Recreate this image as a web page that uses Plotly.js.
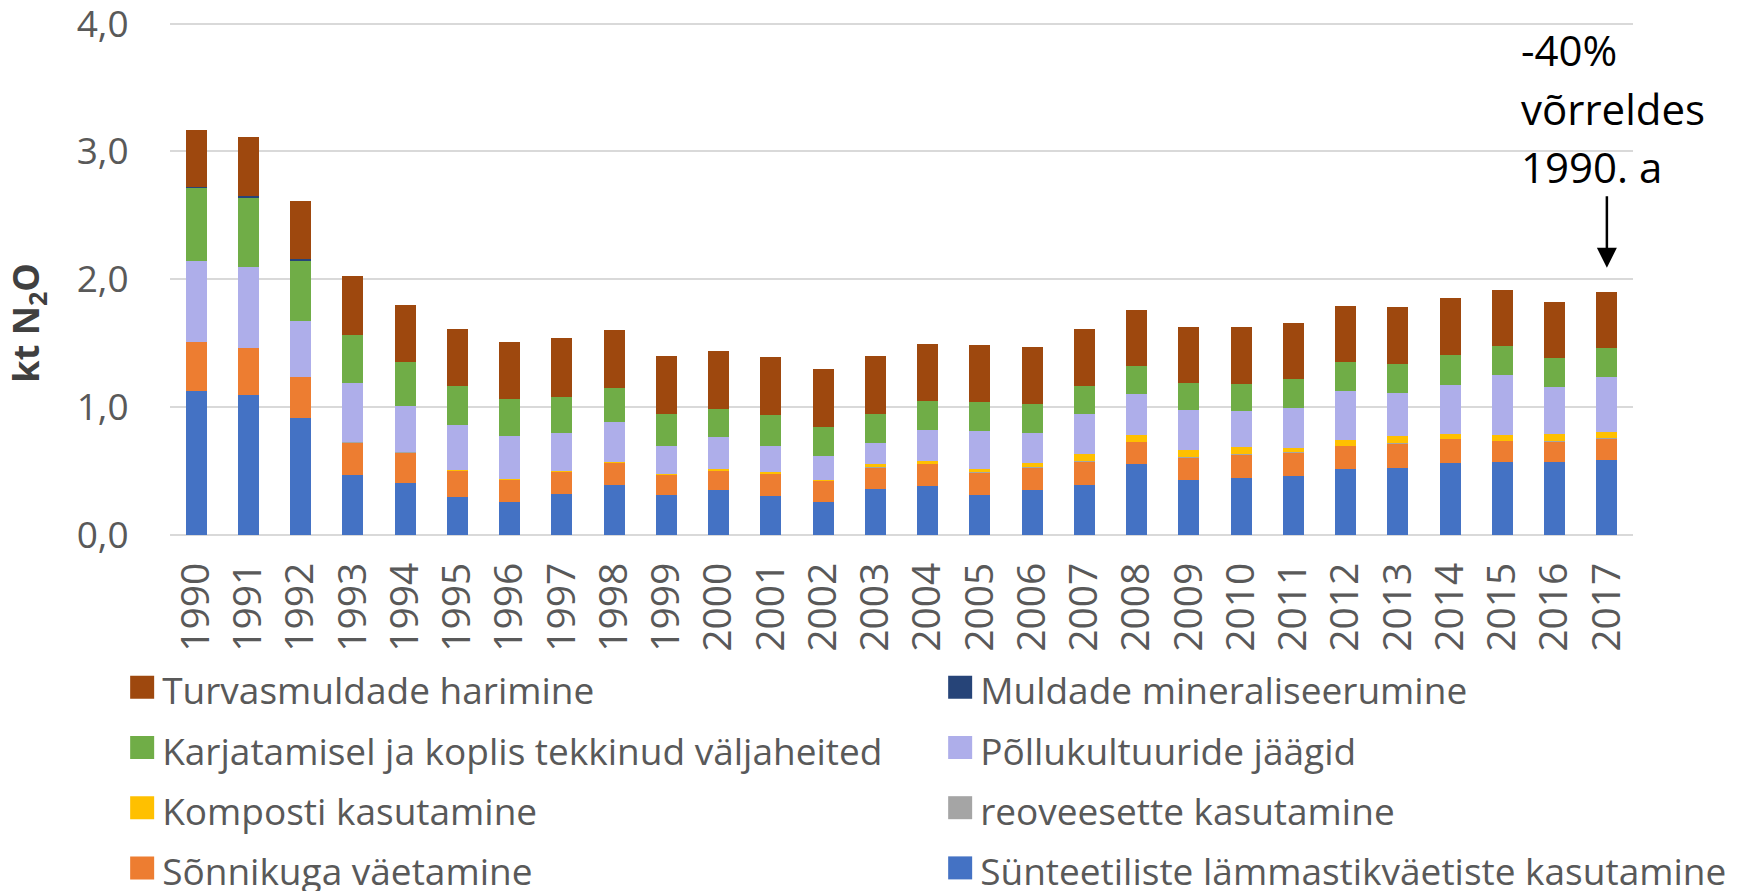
<!DOCTYPE html>
<html>
<head>
<meta charset="utf-8">
<script src="https://cdn.plot.ly/plotly-3.0.1.min.js"></script>
<style>
html,body{margin:0;padding:0;background:#fff;}
#chart{width:1738px;height:891px;}
#chart g.legendpoints path{d:path("M12,11.5H-12V-11.5H12Z");}
</style>
</head>
<body>
<div id="chart"></div>
<script>
const years = ['1990','1991','1992','1993','1994','1995','1996','1997','1998','1999','2000','2001','2002','2003','2004','2005','2006','2007','2008','2009','2010','2011','2012','2013','2014','2015','2016','2017'];

const synteetilised = [1.126,1.098,0.919,0.471,0.409,0.297,0.258,0.319,0.392,0.311,0.353,0.303,0.258,0.361,0.387,0.314,0.353,0.392,0.555,0.431,0.448,0.465,0.518,0.527,0.563,0.569,0.569,0.583];
const sonnik = [0.384,0.367,0.313,0.252,0.235,0.204,0.173,0.177,0.174,0.162,0.148,0.176,0.165,0.168,0.170,0.173,0.176,0.182,0.173,0.174,0.181,0.179,0.179,0.190,0.188,0.168,0.162,0.170];
const reovesete = [0,0,0,0.002,0.002,0.002,0.002,0.002,0.002,0.002,0.002,0.002,0.002,0.002,0.002,0.002,0.002,0.002,0.002,0.002,0.002,0.002,0.002,0.002,0.002,0.002,0.002,0.002];
const kompost = [0,0,0,0,0,0.004,0.003,0.006,0.004,0.003,0.012,0.011,0.008,0.023,0.020,0.031,0.031,0.056,0.056,0.059,0.054,0.037,0.045,0.052,0.037,0.045,0.058,0.052];
const pollukultuurid = [0.633,0.630,0.443,0.467,0.362,0.352,0.339,0.296,0.311,0.222,0.252,0.205,0.182,0.168,0.241,0.294,0.238,0.317,0.320,0.308,0.283,0.314,0.384,0.339,0.387,0.465,0.370,0.431];
const karjatamine = [0.571,0.538,0.471,0.376,0.344,0.303,0.286,0.280,0.269,0.243,0.221,0.243,0.233,0.227,0.227,0.227,0.227,0.218,0.215,0.218,0.213,0.221,0.224,0.230,0.232,0.227,0.227,0.224];
const mineraliseerumine = [0.004,0.017,0.012,0,0,0,0,0,0,0,0,0,0,0,0,0,0,0,0,0,0,0,0,0,0,0,0,0];
const turvasmullad = [0.450,0.462,0.453,0.454,0.448,0.453,0.451,0.457,0.451,0.457,0.451,0.454,0.451,0.448,0.448,0.446,0.443,0.446,0.440,0.437,0.443,0.437,0.440,0.440,0.443,0.437,0.434,0.437];

const seriesNames = ['Sünteetiliste lämmastikväetiste kasutamine','Sõnnikuga väetamine','reoveesette kasutamine','Komposti kasutamine','Põllukultuuride jäägid','Karjatamisel ja koplis tekkinud väljaheited','Muldade mineraliseerumine','Turvasmuldade harimine'];
const seriesValues = [synteetilised, sonnik, reovesete, kompost, pollukultuurid, karjatamine, mineraliseerumine, turvasmullad];
const seriesColors = ['#4472C4','#ED7D31','#A5A5A5','#FFC000','#AEAEEA','#70AD47','#264478','#9E480E'];

const yTitle = 'kt N<sub>2</sub>O';
const annotLines = ['-40%', 'võrreldes', '1990. a'];
const arrowYear = '2017';
const arrowTip = 2.09;

const legendTextSize = 37;
const annotTextSize = 42;
const sized = (t, s) => '<span style="font-size:' + s + 'px">' + t + '</span>';

const traces = seriesNames.map((n, i) => ({
  type: 'bar',
  name: sized(n, legendTextSize),
  x: years,
  y: seriesValues[i],
  marker: {color: seriesColors[i], line: {width: 0}},
  hovertemplate: '%{x}: %{y}<extra>' + n + '</extra>'
}));

const tickColor = '#595959';
const layout = {
  width: 1738,
  height: 891,
  margin: {l: 170, r: 105, t: 21.45, b: 356, autoexpand: false},
  paper_bgcolor: '#ffffff',
  plot_bgcolor: '#ffffff',
  font: {family: 'Open Sans, sans-serif', color: tickColor},
  barmode: 'stack',
  bargap: 0.6,
  separators: ',.',
  showlegend: true,
  legend: {
    orientation: 'h',
    traceorder: 'reversed',
    x: -0.0327,
    xanchor: 'left',
    y: -0.228,
    yanchor: 'top',
    entrywidth: 773,
    entrywidthmode: 'pixels',
    font: {size: 44, color: tickColor},
    bgcolor: 'rgba(0,0,0,0)'
  },
  xaxis: {
    type: 'category',
    range: [-0.5, years.length - 0.5],
    tickangle: -90,
    tickfont: {size: 39, color: tickColor},
    ticks: 'outside',
    ticklen: 11,
    tickcolor: 'rgba(0,0,0,0)',
    showgrid: false,
    showline: false,
    zeroline: false,
    automargin: false
  },
  yaxis: {
    range: [0, 4.02],
    tickvals: [0, 1, 2, 3, 4],
    tickformat: '.1f',
    ticklabeloverflow: 'allow',
    tickfont: {size: 37, color: tickColor},
    ticks: 'outside',
    ticklen: 33,
    tickcolor: 'rgba(0,0,0,0)',
    gridcolor: '#D9D9D9',
    gridwidth: 2,
    zeroline: true,
    zerolinecolor: '#D9D9D9',
    zerolinewidth: 2,
    showline: false,
    automargin: false
  },
  annotations: [
    {
      xref: 'paper', yref: 'paper',
      x: -0.0971, y: 0.413,
      xanchor: 'center', yanchor: 'middle',
      textangle: -90,
      text: yTitle,
      showarrow: false,
      font: {size: 36, color: '#404040', weight: 700}
    },
    {
      xref: 'paper', yref: 'paper',
      x: 0.922, y: 1.004,
      xanchor: 'left', yanchor: 'top',
      align: 'left',
      text: annotLines.map(l => sized(l, annotTextSize)).join('<br>'),
      showarrow: false,
      font: {size: 45, color: '#000000'}
    },
    {
      xref: 'x', yref: 'y',
      x: years.indexOf(arrowYear), y: arrowTip,
      text: '',
      showarrow: true,
      arrowhead: 2,
      arrowsize: 1.6,
      arrowwidth: 2.5,
      arrowcolor: '#000000',
      ax: 0, ay: -73
    }
  ]
};

Plotly.newPlot('chart', traces, layout, {displayModeBar: false, responsive: false});
</script>
</body>
</html>
